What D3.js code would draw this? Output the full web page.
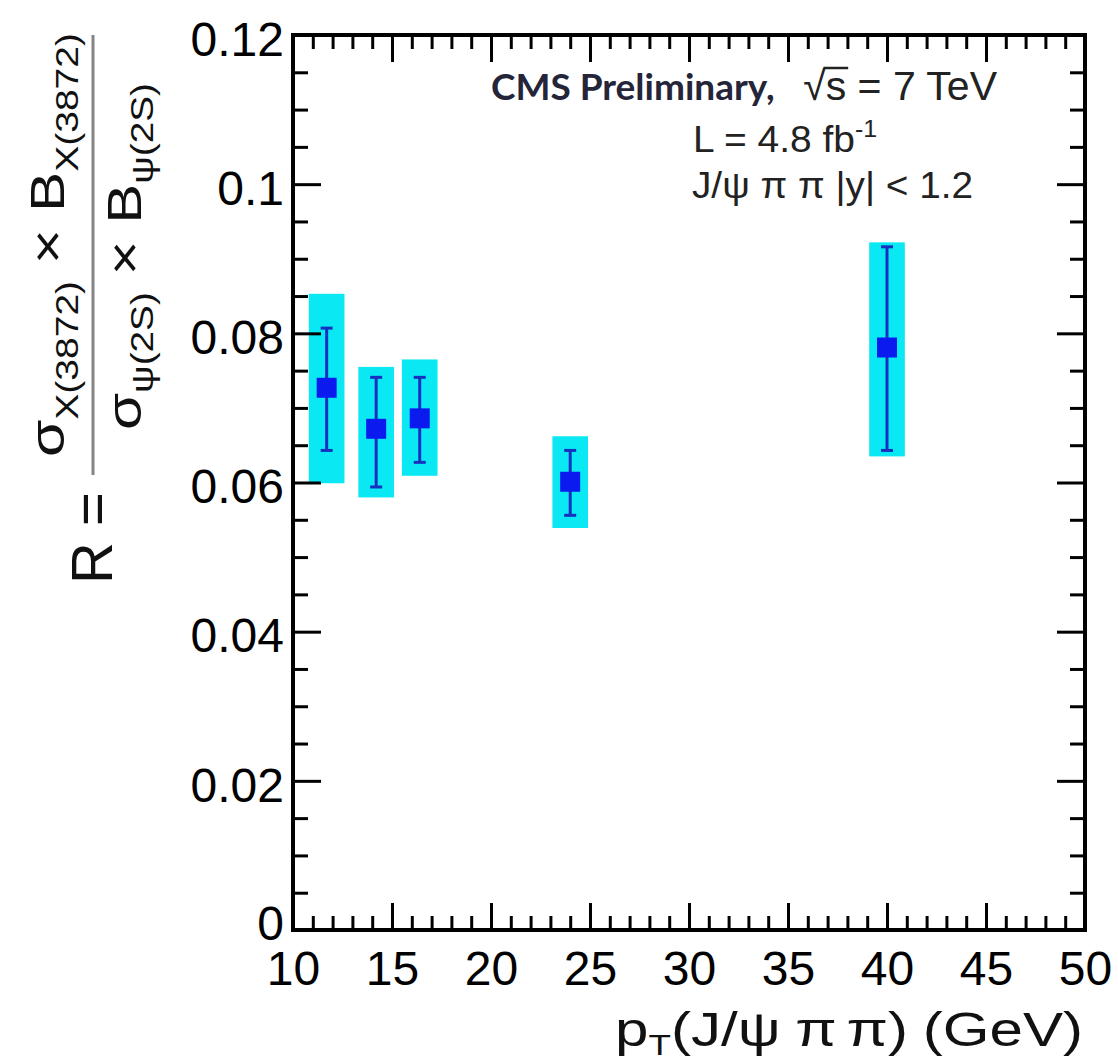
<!DOCTYPE html>
<html>
<head>
<meta charset="utf-8">
<script src="https://cdn.jsdelivr.net/npm/d3@7"></script>
<style>
  html, body { margin: 0; padding: 0; background: #fff; }
  svg { display: block; }
</style>
</head>
<body>
<div id="chart"></div>
<script>
// ---- data ----
const ptValues    = [11.7, 14.2, 16.4, 24.0, 40.0];
const ratioValues = [0.0727, 0.0672, 0.0686, 0.0601, 0.0781];
const statLow     = [0.0643, 0.0594, 0.0627, 0.0556, 0.0643];
const statHigh    = [0.0807, 0.0741, 0.0741, 0.0643, 0.0916];
const systLow     = [0.0599, 0.0580, 0.0609, 0.0539, 0.0635];
const systHigh    = [0.0853, 0.0755, 0.0765, 0.0662, 0.0922];
const systHalfWidth = 0.9; // GeV
const xTickValues = [10, 15, 20, 25, 30, 35, 40, 45, 50];
const xTickLabels = ["10", "15", "20", "25", "30", "35", "40", "45", "50"];
const yTickValues = [0, 0.02, 0.04, 0.06, 0.08, 0.1, 0.12];
const yTickLabels = ["0", "0.02", "0.04", "0.06", "0.08", "0.1", "0.12"];
const xDomain = [10, 50];
const yDomain = [0, 0.12];

(function () {
// ---- layout ----
const W = 1118, H = 1063;
const mLeft = 293, mRight = 1085, mTop = 35, mBottom = 930;
const svg = d3.select("#chart").append("svg").attr("width", W).attr("height", H);

const x = d3.scaleLinear().domain(xDomain).range([mLeft, mRight]);
const y = d3.scaleLinear().domain(yDomain).range([mBottom, mTop]);

const pts = ptValues.map((p, i) => ({
  pt: p, r: ratioValues[i], sLo: statLow[i], sHi: statHigh[i], yLo: systLow[i], yHi: systHigh[i]
}));

// systematic boxes
svg.append("g").selectAll("rect").data(pts).join("rect")
  .attr("x", d => x(d.pt - systHalfWidth))
  .attr("width", d => x(d.pt + systHalfWidth) - x(d.pt - systHalfWidth))
  .attr("y", d => y(d.yHi))
  .attr("height", d => y(d.yLo) - y(d.yHi))
  .attr("fill", "#0ae9f3");

// stat error bars
const eb = svg.append("g").attr("stroke", "#1830c0").attr("stroke-width", 3);
eb.selectAll("line.v").data(pts).join("line").attr("class", "v")
  .attr("x1", d => x(d.pt)).attr("x2", d => x(d.pt))
  .attr("y1", d => y(d.sLo)).attr("y2", d => y(d.sHi));
eb.selectAll("line.c1").data(pts).join("line").attr("class", "c1")
  .attr("x1", d => x(d.pt) - 6).attr("x2", d => x(d.pt) + 6)
  .attr("y1", d => y(d.sLo)).attr("y2", d => y(d.sLo));
eb.selectAll("line.c2").data(pts).join("line").attr("class", "c2")
  .attr("x1", d => x(d.pt) - 6).attr("x2", d => x(d.pt) + 6)
  .attr("y1", d => y(d.sHi)).attr("y2", d => y(d.sHi));

// markers
svg.append("g").selectAll("rect").data(pts).join("rect")
  .attr("x", d => x(d.pt) - 10).attr("y", d => y(d.r) - 10)
  .attr("width", 20).attr("height", 20)
  .attr("fill", "#0b1aee");

// ---- axes ----
const tickFont = "'Liberation Sans', Arial, Helvetica, sans-serif";
const xMinor = d3.range(xDomain[0], xDomain[1] + 0.001, 1).filter(v => v % 5 !== 0);
const yMinor = d3.range(0, 0.1201, 0.005).filter(v => Math.abs(v / 0.02 - Math.round(v / 0.02)) > 1e-6);

function styleAxis(g) {
  g.select(".domain").remove();
  g.selectAll(".tick line").attr("stroke", "#000").attr("stroke-width", 3);
  g.selectAll(".tick text").attr("fill", "#000").attr("font-family", tickFont).attr("font-size", 48);
}

// bottom
svg.append("g").attr("transform", `translate(0,${mBottom})`)
  .call(d3.axisBottom(x).tickValues(xTickValues).tickFormat((d, i) => xTickLabels[i]).tickSize(-27).tickPadding(21))
  .call(styleAxis);
svg.append("g").attr("transform", `translate(0,${mBottom})`)
  .call(d3.axisBottom(x).tickValues(xMinor).tickFormat("").tickSize(-14))
  .call(styleAxis);
// top
svg.append("g").attr("transform", `translate(0,${mTop})`)
  .call(d3.axisTop(x).tickValues(xTickValues).tickFormat("").tickSize(-27))
  .call(styleAxis);
svg.append("g").attr("transform", `translate(0,${mTop})`)
  .call(d3.axisTop(x).tickValues(xMinor).tickFormat("").tickSize(-14))
  .call(styleAxis);
// left
const gl = svg.append("g").attr("transform", `translate(${mLeft},0)`)
  .call(d3.axisLeft(y).tickValues(yTickValues).tickFormat((d, i) => yTickLabels[i]).tickSize(-28).tickPadding(9))
  .call(styleAxis);
gl.selectAll(".tick text").attr("dy", d => d === 0 ? "0.2em" : "0.42em");
svg.append("g").attr("transform", `translate(${mLeft},0)`)
  .call(d3.axisLeft(y).tickValues(yMinor).tickFormat("").tickSize(-15))
  .call(styleAxis);
// right
svg.append("g").attr("transform", `translate(${mRight},0)`)
  .call(d3.axisRight(y).tickValues(yTickValues).tickFormat("").tickSize(-28))
  .call(styleAxis);
svg.append("g").attr("transform", `translate(${mRight},0)`)
  .call(d3.axisRight(y).tickValues(yMinor).tickFormat("").tickSize(-15))
  .call(styleAxis);

// frame
svg.append("rect").attr("x", mLeft).attr("y", mTop)
  .attr("width", mRight - mLeft).attr("height", mBottom - mTop)
  .attr("fill", "none").attr("stroke", "#000").attr("stroke-width", 4);

// ---- x-axis title ----
const xt = svg.append("text").attr("x", 615).attr("y", 1046)
  .attr("font-family", tickFont).attr("font-size", 49).attr("fill", "#111")
  .attr("textLength", 468).attr("lengthAdjust", "spacingAndGlyphs");
xt.append("tspan").text("p");
xt.append("tspan").attr("font-size", 30).attr("dy", 9).text("T");
xt.append("tspan").attr("dy", -9).text("(J/\u03C8");
xt.append("tspan").attr("dx", 12).text("\u03C0");
xt.append("tspan").attr("dx", 8).text("\u03C0)");
xt.append("tspan").attr("dx", 12).text("(GeV)");

// ---- y-axis title (rotated) ----
const yt = svg.append("g").attr("transform", "rotate(-90)")
  .attr("font-family", tickFont).attr("fill", "#111");
yt.append("text").attr("x", -584).attr("y", 112).attr("font-size", 58).text("R\u00A0=");
yt.append("line").attr("x1", -475).attr("x2", -35).attr("y1", 93).attr("y2", 93)
  .attr("stroke", "#858585").attr("stroke-width", 3);
const num = yt.append("text").attr("x", -457).attr("y", 64).attr("font-size", 48)
  .attr("textLength", 424).attr("lengthAdjust", "spacingAndGlyphs");
num.append("tspan").text("\u03C3");
num.append("tspan").attr("font-size", 31).attr("dy", 14).text("X(3872)");
num.append("tspan").attr("dy", -14).text("\u00A0\u00D7\u00A0B");
num.append("tspan").attr("font-size", 31).attr("dy", 14).text("X(3872)");
const den = yt.append("text").attr("x", -430).attr("y", 141).attr("font-size", 48)
  .attr("textLength", 347).attr("lengthAdjust", "spacingAndGlyphs");
den.append("tspan").text("\u03C3");
den.append("tspan").attr("font-size", 31).attr("dy", 12).text("\u03C8(2S)");
den.append("tspan").attr("dy", -12).text("\u00A0\u00D7\u00A0B");
den.append("tspan").attr("font-size", 31).attr("dy", 12).text("\u03C8(2S)");

// ---- annotations ----
svg.append("text").attr("x", 491).attr("y", 100)
  .attr("font-family", "Lato, 'Open Sans', sans-serif").attr("font-weight", 700)
  .attr("font-size", 37).attr("fill", "#25253a").text("CMS Preliminary,");
const sq = svg.append("text").attr("x", 997).attr("y", 100).attr("text-anchor", "end")
  .attr("font-family", tickFont).attr("font-size", 41).attr("fill", "#222");
sq.append("tspan").text("\u221A");
sq.append("tspan").text("s");
sq.append("tspan").text(" = 7 TeV");
{
  const node = sq.node();
  const sPos = node.getStartPositionOfChar(1);
  const sEnd = node.getEndPositionOfChar(1);
  svg.append("line").attr("x1", sPos.x - 2).attr("x2", sEnd.x + 2)
    .attr("y1", 100 - 32).attr("y2", 100 - 32)
    .attr("stroke", "#222").attr("stroke-width", 2.5);
}
const lum = svg.append("text").attr("x", 693).attr("y", 152)
  .attr("font-family", tickFont).attr("font-size", 36).attr("fill", "#222")
  .attr("textLength", 184).attr("lengthAdjust", "spacingAndGlyphs");
lum.append("tspan").text("L = 4.8 fb");
lum.append("tspan").attr("font-size", 23).attr("dy", -15).text("-1");
svg.append("text").attr("x", 692).attr("y", 198)
  .attr("font-family", tickFont).attr("font-size", 36).attr("fill", "#222")
  .attr("textLength", 281).attr("lengthAdjust", "spacingAndGlyphs")
  .text("J/\u03C8 \u03C0 \u03C0 |y| < 1.2");
})();
</script>
</body>
</html>
